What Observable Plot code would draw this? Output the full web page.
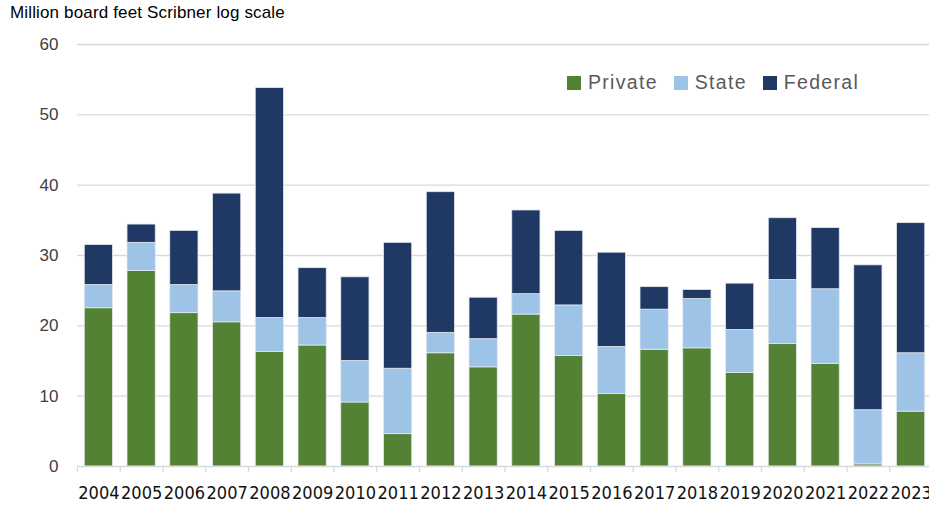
<!DOCTYPE html>
<html>
<head>
<meta charset="utf-8">
<script src="https://cdn.jsdelivr.net/npm/d3@7"></script>
<script src="https://cdn.jsdelivr.net/npm/@observablehq/plot@0.6"></script>
<style>
  html, body { margin: 0; padding: 0; background: #fff; overflow: hidden; }
  #wrap { position: relative; width: 929px; height: 506px; }
  #title { position: absolute; left: 10px; top: 3px; font-family: "Liberation Sans", Arial, sans-serif; font-size: 17px; letter-spacing: 0.15px; color: #000; white-space: nowrap; }
  #legend { position: absolute; left: 567px; top: 71px; font-family: "Liberation Sans", Arial, sans-serif; font-size: 19.5px; letter-spacing: 1.3px; color: #595959; display: flex; align-items: center; white-space: nowrap; }
  #legend .item { display: flex; align-items: center; margin-right: 16px; }
  #legend .sw { width: 14px; height: 14px; margin-right: 7px; }
</style>
</head>
<body>
<div id="wrap">
  <div id="chart"></div>
  <div id="title">Million board feet Scribner log scale</div>
  <div id="legend"></div>
</div>
<script>
const years = ["2004","2005","2006","2007","2008","2009","2010","2011","2012","2013","2014","2015","2016","2017","2018","2019","2020","2021","2022","2023"];
const privateVals = [22.5, 27.8, 21.8, 20.5, 16.3, 17.2, 9.1, 4.6, 16.1, 14.1, 21.6, 15.7, 10.3, 16.6, 16.8, 13.3, 17.4, 14.6, 0.3, 7.8];
const stateVals   = [3.3, 4.0, 4.0, 4.4, 4.8, 3.9, 5.9, 9.3, 2.9, 4.0, 2.9, 7.2, 6.7, 5.7, 7.0, 6.1, 9.1, 10.6, 7.7, 8.3];
const federalVals = [5.7, 2.6, 7.7, 13.9, 32.7, 7.1, 11.9, 17.9, 20.0, 5.9, 11.9, 10.6, 13.4, 3.2, 1.3, 6.6, 8.8, 8.7, 20.6, 18.5];
const seriesNames = ["Private", "State", "Federal"];
const seriesColors = ["#548235", "#9dc3e6", "#203864"];
const yTicks = [0, 10, 20, 30, 40, 50, 60];

const rows = [];
years.forEach((y, i) => {
  rows.push({year: y, owner: "Private", value: privateVals[i]});
  rows.push({year: y, owner: "State", value: stateVals[i]});
  rows.push({year: y, owner: "Federal", value: federalVals[i]});
});

const xRange = [77, 932];
const bw = (xRange[1] - xRange[0]) / years.length;

const chart = Plot.plot({
  width: 929,
  height: 506,
  marginTop: 44,
  marginBottom: 40,
  marginLeft: 77,
  marginRight: 0,
  style: {background: "#fff", overflow: "visible"},
  x: {domain: years, range: xRange, round: false, paddingInner: 0.34, paddingOuter: 0.17, align: 0.5, label: null},
  y: {domain: [0, 60], label: null},
  color: {domain: seriesNames, range: seriesColors},
  marks: [
    Plot.ruleY(yTicks.filter(d => d > 0), {y: d => d, stroke: "#d9d9d9", strokeWidth: 1.3}),
    Plot.barY(rows, {x: "year", y: "value", fill: "owner", order: seriesNames, stroke: "#e3e8ef", strokeWidth: 0.8}),
    Plot.ruleY([0], {stroke: "#d9d9d9", strokeWidth: 1.3}),
    Plot.ruleX(years, {x: d => d, dx: -bw / 2, y1: 0, y2: -0.85, stroke: "#d9d9d9", strokeWidth: 1.3}),
    Plot.axisY(yTicks, {tickSize: 0, tickPadding: 19, fontSize: 17, fill: "#404040", fontFamily: "Liberation Sans, Arial, sans-serif", label: null}),
    Plot.axisX(years, {tickSize: 0, tickPadding: 20, fontSize: 18, fill: "#111", fontFamily: "DejaVu Sans Condensed, DejaVu Sans, sans-serif", label: null})
  ]
});
document.getElementById("chart").appendChild(chart);

const legend = document.getElementById("legend");
seriesNames.forEach((n, i) => {
  const it = document.createElement("div");
  it.className = "item";
  const sw = document.createElement("div");
  sw.className = "sw";
  sw.style.background = seriesColors[i];
  const t = document.createElement("span");
  t.textContent = n;
  it.appendChild(sw); it.appendChild(t);
  legend.appendChild(it);
});
</script>
</body>
</html>
